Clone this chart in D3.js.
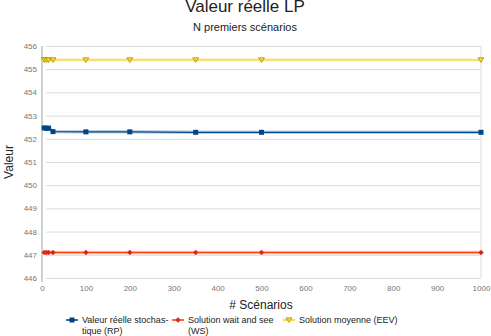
<!DOCTYPE html>
<html lang="fr">
<head>
  <meta charset="UTF-8">
  <title>Valeur réelle LP</title>
  <style>
    body { margin: 0; background: #fff; }
    svg { font-family: "Liberation Sans", Arial, sans-serif; }
    .grille line { stroke: #dcdcdc; }
    .grille path { display: none; }
    .tick text { fill: #777; font-size: 8px; }
  </style>
</head>
<body>
  <svg id="grafico"></svg>

  <script src="https://d3js.org/d3.v7.min.js"></script>
  <script>
    // données
    const scenarios = [5, 10, 15, 25, 100, 200, 350, 500, 1000];
    const rp  = [452.47, 452.45, 452.46, 452.31, 452.3, 452.3, 452.28, 452.28, 452.28];
    const ws  = [447.1, 447.1, 447.1, 447.1, 447.1, 447.1, 447.1, 447.1, 447.1];
    const eev = [455.4, 455.4, 455.4, 455.4, 455.4, 455.4, 455.4, 455.4, 455.4];
    const ticksX = [0, 100, 200, 300, 400, 500, 600, 700, 800, 900, 1000];
    const ticksY = [446, 447, 448, 449, 450, 451, 452, 453, 454, 455, 456];

    const series = [
      { nom: ['Valeur réelle stochas-', 'tique (RP)'], valeurs: rp, cor: '#004586', marque: 'carre' },
      { nom: ['Solution wait and see', '(WS)'], valeurs: ws, cor: '#ff420e', marque: 'losange' },
      { nom: ['Solution moyenne (EEV)'], valeurs: eev, cor: '#ffd320', marque: 'triangle' }
    ];

    const largura = 491, altura = 336;
    const m = { esq: 42, dir: 481, topo: 46, base: 278 };
    const svg = d3.select('#grafico').attr('width', largura).attr('height', altura);

    const x = d3.scaleLinear().domain([0, 1000]).range([m.esq, m.dir]);
    const y = d3.scaleLinear().domain([446, 456]).range([m.base, m.topo]);

    // grille horizontale
    svg.append('g')
      .attr('class', 'grille')
      .attr('transform', `translate(${m.esq},0)`)
      .call(d3.axisLeft(y).tickValues(ticksY).tickSize(-(m.dir - m.esq)).tickPadding(5).tickFormat(d3.format('d')))
      .call(g => g.selectAll('.tick line').attr('x1', 4));

    svg.append('line')
      .attr('x1', m.dir).attr('x2', m.dir).attr('y1', m.topo).attr('y2', m.base)
      .attr('stroke', '#dcdcdc');
    svg.append('line')
      .attr('x1', m.esq).attr('x2', m.esq).attr('y1', m.topo).attr('y2', m.base + 4)
      .attr('stroke', '#d0d0d0').attr('stroke-width', 2);

    svg.append('g')
      .attr('transform', `translate(0,${m.base})`)
      .call(d3.axisBottom(x).tickValues(ticksX).tickSize(0).tickPadding(7).tickFormat(d3.format('d')))
      .call(g => g.select('.domain').remove());

    // titres
    svg.append('text').attr('x', 245).attr('y', 12).attr('text-anchor', 'middle')
      .attr('font-size', 17).attr('fill', '#222').text('Valeur réelle LP');
    svg.append('text').attr('x', 245).attr('y', 31).attr('text-anchor', 'middle')
      .attr('font-size', 11).attr('fill', '#222').text('N premiers scénarios');
    svg.append('text').attr('x', 261).attr('y', 309).attr('text-anchor', 'middle')
      .attr('font-size', 12).attr('fill', '#222').text('# Scénarios');
    svg.append('text').attr('transform', 'translate(13,162) rotate(-90)').attr('text-anchor', 'middle')
      .attr('font-size', 12).attr('fill', '#222').text('Valeur');

    const ligne = d3.line().x((d, i) => x(scenarios[i])).y(d => y(d));

    function marque(g, tipo, cor, cx, cy) {
      if (tipo === 'carre') {
        g.append('rect').attr('x', cx - 2.5).attr('y', cy - 2.5).attr('width', 5).attr('height', 5)
          .attr('fill', cor);
      } else if (tipo === 'losange') {
        g.append('path').attr('d', `M${cx},${cy - 2.5}L${cx + 2.5},${cy}L${cx},${cy + 2.5}L${cx - 2.5},${cy}Z`)
          .attr('fill', '#c1272d').attr('stroke', cor).attr('stroke-width', 0.6);
      } else {
        g.append('path').attr('d', `M${cx - 3},${cy - 2.2}L${cx + 3},${cy - 2.2}L${cx},${cy + 2.6}Z`)
          .attr('fill', cor).attr('stroke', '#8a7a10').attr('stroke-width', 0.6);
      }
    }

    series.forEach(s => {
      svg.append('path').datum(s.valeurs)
        .attr('fill', 'none').attr('stroke', s.cor).attr('stroke-opacity', 0.25).attr('stroke-width', 3.5)
        .attr('d', ligne);
      svg.append('path').datum(s.valeurs)
        .attr('fill', 'none').attr('stroke', s.cor).attr('stroke-width', 1.3)
        .attr('d', ligne);
      const g = svg.append('g');
      s.valeurs.forEach((v, i) => marque(g, s.marque, s.cor, x(scenarios[i]), y(v)));
    });

    // légende
    const legX = [72, 178, 289];
    series.forEach((s, k) => {
      const g = svg.append('g');
      g.append('line').attr('x1', legX[k] - 6).attr('x2', legX[k] + 6).attr('y1', 320).attr('y2', 320)
        .attr('stroke', s.cor).attr('stroke-width', 1.6);
      marque(g, s.marque, s.cor, legX[k], 320);
      s.nom.forEach((t, j) => {
        g.append('text').attr('x', legX[k] + 10).attr('y', 323 + j * 11)
          .attr('font-size', 9).attr('fill', '#222').text(t);
      });
    });
  </script>
</body>
</html>
